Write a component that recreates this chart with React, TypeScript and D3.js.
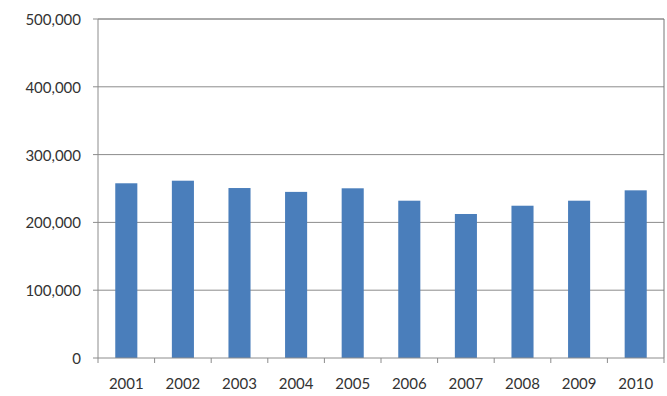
import React from "react";
import * as d3 from "d3";

const years = ["2001", "2002", "2003", "2004", "2005", "2006", "2007", "2008", "2009", "2010"];
const values = [257700, 261500, 250700, 245000, 250300, 232000, 212400, 224600, 232000, 247300];
const yTicks = [0, 100000, 200000, 300000, 400000, 500000];

const W = 667;
const H = 396;
const plot = { left: 98, right: 664, top: 19, bottom: 358 };
const font = "Lato, 'Open Sans', sans-serif";

export default function App() {
  const x = d3
    .scaleBand<string>()
    .domain(years)
    .range([plot.left, plot.right])
    .paddingInner(0.61)
    .paddingOuter(0.305);
  const y = d3.scaleLinear().domain([0, 500000]).range([plot.bottom, plot.top]);
  const fmt = d3.format(",");
  const step = x.step();

  return (
    <svg
      width={W}
      height={H}
      style={{ position: "absolute", left: 0, top: 0, background: "#fff" }}
    >
      {/* gridlines and value labels */}
      {yTicks.map((t) => (
        <g key={t}>
          {t > 0 && (
            <line
              x1={plot.left}
              x2={plot.right}
              y1={y(t)}
              y2={y(t)}
              stroke={t === 500000 ? "#555" : "#8c8c8c"}
              strokeWidth={1}
            />
          )}
          <line x1={plot.left - 5} x2={plot.left} y1={y(t)} y2={y(t)} stroke="#8c8c8c" />
          <text
            x={plot.left - 17}
            y={y(t)}
            textAnchor="end"
            dominantBaseline="central"
            fontFamily={font}
            fontSize={15}
            fill="#333"
          >
            {fmt(t)}
          </text>
        </g>
      ))}

      {/* plot border sides */}
      <line x1={plot.right} x2={plot.right} y1={plot.top} y2={plot.bottom} stroke="#777" />

      {/* bars */}
      {years.map((yr, i) => (
        <rect
          key={yr}
          x={x(yr)}
          y={y(values[i])}
          width={x.bandwidth()}
          height={y(0) - y(values[i])}
          fill="#4a7ebb"
        />
      ))}

      {/* axes */}
      <line x1={plot.left} x2={plot.left} y1={plot.top} y2={plot.bottom} stroke="#8c8c8c" />
      <line x1={plot.left} x2={plot.right} y1={plot.bottom} y2={plot.bottom} stroke="#8c8c8c" />
      {d3.range(years.length + 1).map((k) => (
        <line
          key={k}
          x1={plot.left + k * step}
          x2={plot.left + k * step}
          y1={plot.bottom}
          y2={plot.bottom + 5}
          stroke="#8c8c8c"
        />
      ))}
      {years.map((yr) => (
        <text
          key={yr}
          x={(x(yr) as number) + x.bandwidth() / 2}
          y={383}
          textAnchor="middle"
          dominantBaseline="central"
          fontFamily={font}
          fontSize={15}
          fill="#333"
        >
          {yr}
        </text>
      ))}
    </svg>
  );
}
